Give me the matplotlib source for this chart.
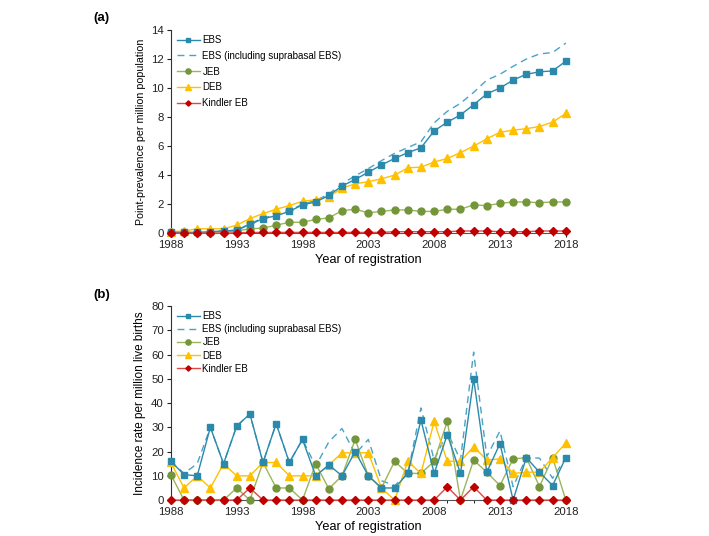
import numpy as np
import matplotlib
matplotlib.use('Agg')
import matplotlib.pyplot as plt
from matplotlib.ticker import MultipleLocator

plt.rcParams['font.family'] = ['Liberation Sans', 'DejaVu Sans']

years = list(range(1988, 2019))

# (a) point-prevalence per million population
prev_ebs = [0.05, 0.05, 0.05, 0.1, 0.15, 0.2, 0.6, 1.0, 1.2, 1.5, 1.95, 2.15, 2.6, 3.25, 3.7, 4.2,
            4.7, 5.15, 5.55, 5.88, 7.05, 7.65, 8.15, 8.85, 9.6, 10.0, 10.55, 10.95, 11.12, 11.18, 11.85]
prev_ebs_supra = [0.05, 0.05, 0.05, 0.1, 0.15, 0.2, 0.65, 1.05, 1.25, 1.55, 2.0, 2.25, 2.7, 3.4, 3.95, 4.45,
                  5.0, 5.5, 5.9, 6.3, 7.6, 8.4, 8.95, 9.7, 10.55, 10.95, 11.5, 12.0, 12.35, 12.45, 13.1]
prev_jeb = [0.05, 0.05, 0.05, 0.05, 0.1, 0.15, 0.3, 0.35, 0.55, 0.75, 0.75, 0.95, 1.05, 1.55, 1.65, 1.4,
            1.5, 1.6, 1.6, 1.5, 1.5, 1.65, 1.65, 1.95, 1.9, 2.05, 2.15, 2.15, 2.1, 2.15, 2.15]
prev_deb = [0.1, 0.15, 0.3, 0.3, 0.3, 0.55, 1.0, 1.35, 1.65, 1.9, 2.2, 2.3, 2.5, 3.1, 3.4, 3.55,
            3.75, 4.0, 4.5, 4.55, 4.9, 5.15, 5.55, 6.0, 6.5, 6.95, 7.1, 7.2, 7.35, 7.65, 8.25]
prev_kindler = [0, 0, 0, 0, 0, 0.03, 0.05, 0.05, 0.05, 0.05, 0.05, 0.05, 0.05, 0.05, 0.05, 0.05,
                0.05, 0.1, 0.1, 0.1, 0.1, 0.1, 0.15, 0.15, 0.15, 0.1, 0.1, 0.1, 0.15, 0.15, 0.15]

# (b) incidence rate per million live births
inc_ebs = [16, 10.5, 10, 30, 15, 30.5, 35.5, 15.5, 31.5, 15.5, 25, 10, 14.5, 10, 20, 10,
           5, 5, 11, 33, 11, 27, 11, 50, 11.5, 23.3, 0, 17.5, 11.5, 6, 17.5]
inc_ebs_supra = [16, 11, 15, 30, 15, 30.5, 35.5, 15.5, 31.5, 15.5, 25, 14, 24, 29.5, 19, 25,
                 8, 6, 11, 38, 16.5, 28, 16.5, 61, 18, 28.5, 5.5, 17.5, 17.3, 9, 17.5]
inc_jeb = [10.5, 0, 0, 0, 0, 5, 0, 15.5, 5, 5, 0, 15, 4.7, 10, 25, 10,
           5, 16, 11, 11, 16, 32.5, 0, 16.5, 11.5, 6, 17, 17.5, 5.6, 17.5, 0]
inc_deb = [15.5, 5, 10, 5, 15, 10, 10, 15.5, 15.5, 10, 10, 10, 14.5, 19.5, 19.5, 19.5,
           5, 0, 16, 11, 32.5, 16, 16, 22, 16.5, 17, 11, 11.5, 11.5, 17.5, 23.5]
inc_kindler = [0, 0, 0, 0, 0, 0, 5, 0, 0, 0, 0, 0, 0, 0, 0, 0,
               0, 0, 0, 0, 0, 5.5, 0, 5.5, 0, 0, 0, 0, 0, 0, 0]

labels = ['EBS', 'EBS (including suprabasal EBS)', 'JEB', 'DEB', 'Kindler EB']
c_ebs = '#2b8aac'
c_ebs_d = '#4aa3c4'
c_jeb_m = '#74963a'
c_jeb_l = '#9bb55c'
c_deb = '#ffc000'
c_kin_m = '#c00000'
c_kin_l = '#e04848'


def draw(ax, ebs, ebs_s, jeb, deb, kin, spacing):
    ax.plot(years, ebs, color=c_ebs, lw=1.0, marker='s', ms=4.6, label=labels[0], clip_on=False, zorder=5)
    ax.plot(years, ebs_s, color=c_ebs_d, lw=1.0, ls=(0, (5, 3.5)), label=labels[1], clip_on=False, zorder=4)
    ax.plot(years, jeb, color=c_jeb_l, lw=1.0, marker='o', ms=5, mfc=c_jeb_m, mec=c_jeb_m,
            label=labels[2], clip_on=False, zorder=4)
    ax.plot(years, deb, color=c_deb, lw=1.0, marker='^', ms=5.5, label=labels[3], clip_on=False, zorder=4)
    ax.plot(years, kin, color=c_kin_l, lw=1.0, marker='D', ms=3.6, mfc=c_kin_m, mec=c_kin_m,
            label=labels[4], clip_on=False, zorder=6)
    ax.set_xlim(1988, 2018)
    ax.set_xticks(range(1988, 2019, 5))
    ax.xaxis.set_minor_locator(MultipleLocator(1))
    ax.spines['top'].set_visible(False)
    ax.spines['right'].set_visible(False)
    ax.spines['left'].set_color('#333333')
    ax.spines['bottom'].set_color('#555555')
    ax.tick_params(labelsize=8.2, length=3, width=0.8, colors='#222222', pad=2)
    ax.tick_params(axis='x', which='minor', length=2, width=0.6)
    ax.set_xlabel('Year of registration', fontsize=9.2, labelpad=3)
    ax.legend(loc='upper left', frameon=False, fontsize=7.0, handlelength=2.4, markerscale=0.75,
              handletextpad=0.25, labelspacing=spacing, borderaxespad=0.0,
              bbox_to_anchor=(0.005, 0.995))


fig = plt.figure(figsize=(7.09, 5.36), dpi=100)
ax1 = fig.add_axes([0.241, 0.565, 0.557, 0.379])
ax2 = fig.add_axes([0.241, 0.067, 0.557, 0.362])

draw(ax1, prev_ebs, prev_ebs_supra, prev_jeb, prev_deb, prev_kindler, 0.6)
ax1.set_ylim(0, 14)
ax1.set_yticks(range(0, 15, 2))
ax1.set_ylabel('Point-prevalence per million population', fontsize=7.7, labelpad=4)

draw(ax2, inc_ebs, inc_ebs_supra, inc_jeb, inc_deb, inc_kindler, 0.33)
ax2.set_ylim(0, 80)
ax2.set_yticks(range(0, 81, 10))
ax2.set_ylabel('Incidence rate per million live births', fontsize=8.5, labelpad=4)

fig.text(0.143, 0.966, '(a)', fontsize=9.5, fontweight='bold', ha='center', va='center')
fig.text(0.143, 0.450, '(b)', fontsize=9.5, fontweight='bold', ha='center', va='center')

fig.savefig('out.png', dpi=100)
